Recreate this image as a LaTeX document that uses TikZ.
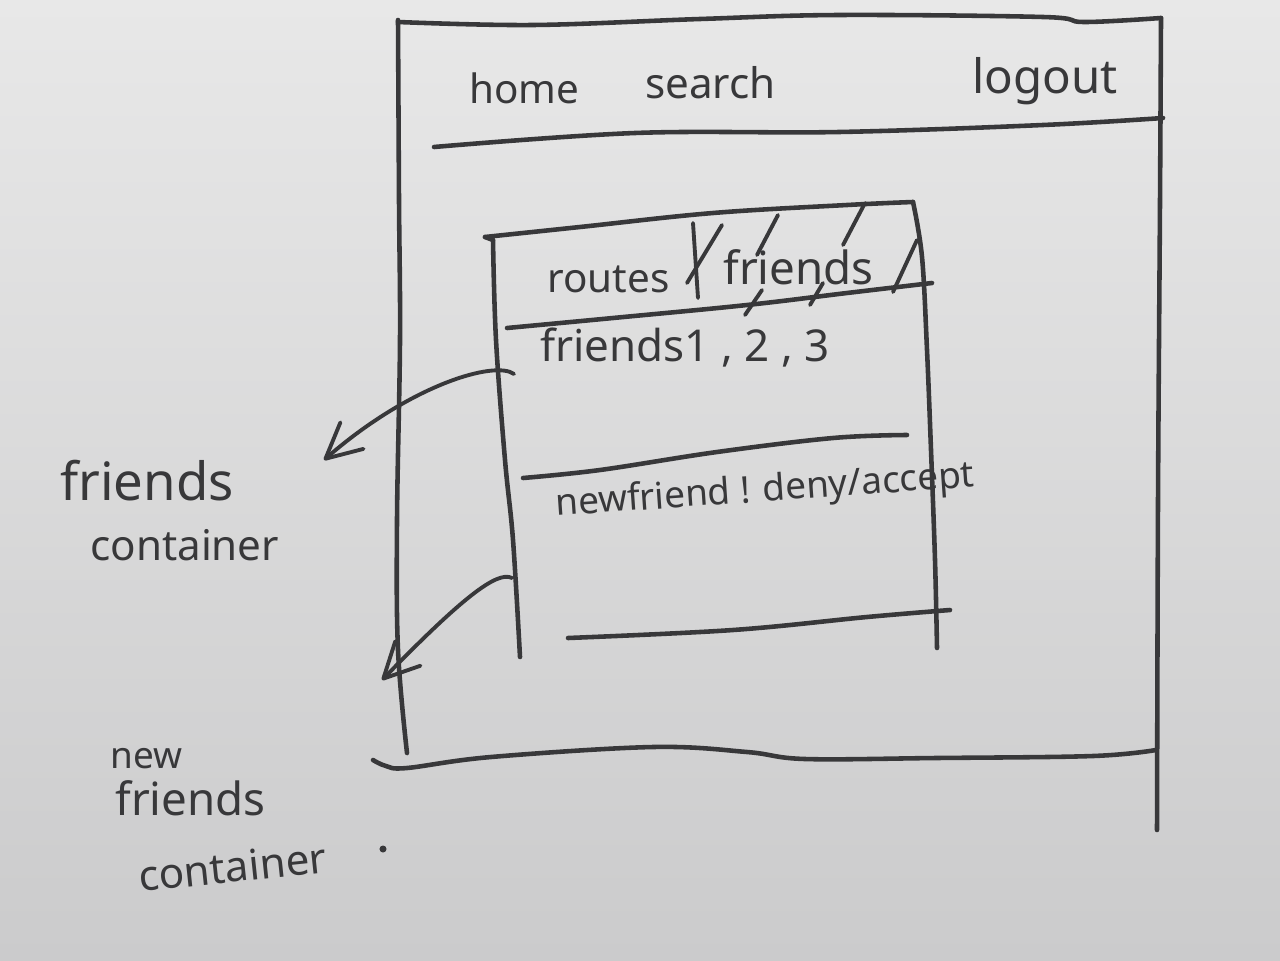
\documentclass[tikz,border=0pt]{standalone}
\usepackage{fontspec}
\setmainfont{Noto Sans}
\usetikzlibrary{arrows.meta}
\definecolor{paperTop}{RGB}{232,232,232}
\definecolor{paperBottom}{RGB}{203,203,204}
\definecolor{ink}{RGB}{56,56,58}
\newcommand\handfont[1]{\fontsize{#1}{#1}\selectfont}

\begin{document}
\begin{tikzpicture}[x=0.02cm,y=-0.02cm,
  pen/.style={draw=ink,line width=2.6pt,line cap=round,line join=round},
  thinpen/.style={pen,line width=2.2pt},
  hand/.style={text=ink,inner sep=0pt,anchor=base west},
  pointer/.style={pen,line width=2.2pt,-{Straight Barb[length=20pt,width=20pt,round]}}]

\useasboundingbox (0,0) rectangle (1280,960);
\shade[top color=paperTop,bottom color=paperBottom] (0,0) rectangle (1280,960);

% page frame
\draw[pen] plot[smooth,tension=0.6] coordinates
  {(398,22) (533,25) (700,19) (839,15) (1043,17) (1084,22) (1161,18)};
\draw[pen] plot[smooth,tension=0.6] coordinates
  {(398,20) (399,200) (400,340) (397,520) (398,650) (407,753)};
\draw[pen] plot[smooth,tension=0.6] coordinates
  {(1161,18) (1160,200) (1158,500) (1157,830)};
% header rule
\draw[pen] plot[smooth,tension=0.6] coordinates
  {(434,147) (635,133) (839,132) (1043,125) (1163,118)};
% footer rule
\draw[pen] plot[smooth,tension=0.6] coordinates
  {(373,760) (386,766) (407,768) (491,757) (653,747) (747,752) (805,759) (936,758) (1093,756) (1156,750)};

% navigation
\node[hand,font=\handfont{23}] (home) at (469,103) {home};
\node[hand,font=\handfont{24}] (search) at (645,98) {search};
\node[hand,font=\handfont{27}] (logout) at (972,93) {logout};

% friends panel
\draw[pen] plot[smooth,tension=0.6] coordinates
  {(485,237) (580,227) (713,213) (847,205) (913,202)};
\draw[pen] (485,237) -- (493,240);
\draw[pen] plot[smooth,tension=0.6] coordinates
  {(493,240) (496,340) (505,460) (513,540) (520,657)};
\draw[pen] plot[smooth,tension=0.6] coordinates
  {(913,202) (922,257) (927,350) (931,450) (935,560) (937,648)};
% tab rule
\draw[pen] plot[smooth,tension=0.6] coordinates
  {(507,328) (613,318) (747,305) (847,293) (932,283)};
% tabs
\node[hand,font=\handfont{23}] (routes) at (547,292) {routes};
\node[hand,font=\handfont{26}] (tabFriends) at (723,284) {friends};
\draw[thinpen] (693,223) -- (698,298);
\draw[thinpen] (722,225) -- (687,283);
% hatching of the active tab
\draw[thinpen] (778,215) -- (757,255);
\draw[thinpen] (762,290) -- (745,315);
\draw[thinpen] (865,203) -- (843,245);
\draw[thinpen] (823,283) -- (810,305);
\draw[thinpen] (917,240) -- (893,292);

% friends list
\node[hand,font=\handfont{25}] (list) at (540,361) {friends1 , 2 , 3};
\draw[pen] plot[smooth,tension=0.6] coordinates
  {(523,478) (600,470) (717,452) (833,438) (907,435)};
% requests
\node[hand,font=\handfont{21},rotate=4] (requests) at (556,516) {newfriend ! deny/accept};
\draw[pen] plot[smooth,tension=0.6] coordinates
  {(568,638) (733,630) (867,617) (950,610)};

% annotations
\node[hand,font=\handfont{30}] (fcA) at (60,500) {friends};
\node[hand,font=\handfont{24}] (fcB) at (90,560) {container};
\node[hand,font=\handfont{21}] (nfA) at (110,768) {new};
\node[hand,font=\handfont{26}] (nfB) at (115,815) {friends};
\node[hand,font=\handfont{24},rotate=6] (nfC) at (140,892) {container};
\fill[ink] (383,849) circle (2pt);

\coordinate (fcFrom) at (514,374);
\coordinate (fcTo) at (324,460);
\draw[pointer] (fcFrom) .. controls (495,360) and (410,385) .. (fcTo);
\coordinate (nfFrom) at (512,578);
\coordinate (nfTo) at (382,680);
\draw[pointer] (nfFrom) .. controls (497,570) and (460,600) .. (nfTo);

\end{tikzpicture}
\end{document}
